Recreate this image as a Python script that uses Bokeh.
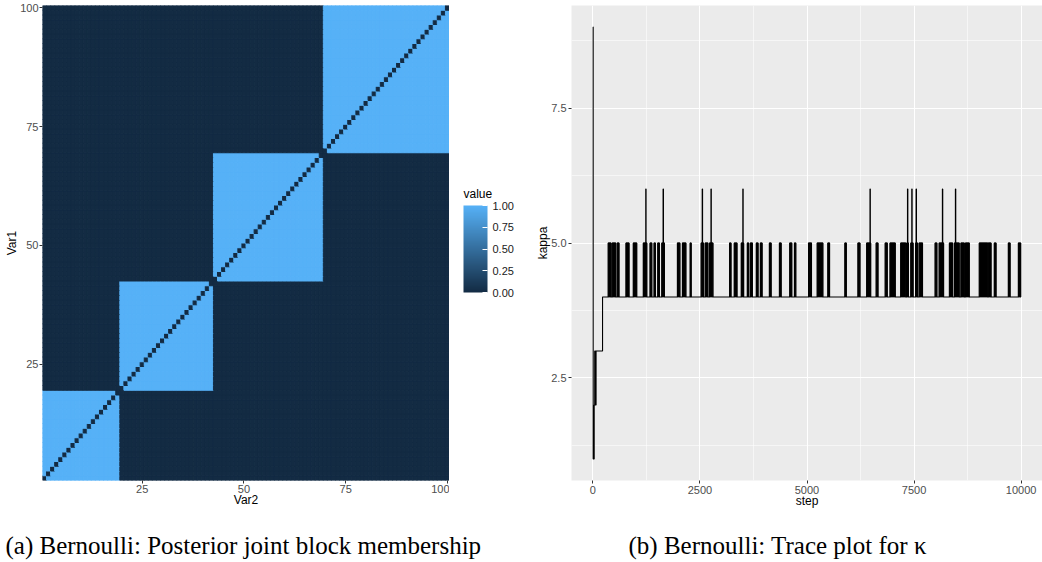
import numpy as np
from bokeh.plotting import figure
from bokeh.models import (Range1d, FixedTicker, LinearColorMapper, ColorBar, Label,
                          ColumnDataSource, PrintfTickFormatter)
from bokeh.layouts import row, column
from bokeh.transform import transform
from bokeh.embed import file_html
from bokeh.resources import INLINE

# ---------------- data: panel (a) ----------------
# block sizes of nodes 1..100
block_sizes = [19, 23, 27, 31]
n_nodes = 100

# ---------------- data: panel (b) ----------------
# early part of the chain (step, kappa)
early_step = [0, 6, 30, 42, 50, 58, 66, 74, 86, 225]
early_kappa = [9, 1, 2, 3, 2, 3, 2, 3, 3, 4]
# intervals with rapid switching between kappa=4 and kappa=5
burst_start = [358, 452, 569, 773, 944, 1178, 1335, 1429, 1515, 1609, 1974, 2091, 2272,
               2529, 2623, 2724, 3192, 3302, 3466, 3607, 3677, 3817, 3911, 4122, 4356,
               4597, 4707, 5035, 5239, 5487, 5885, 6190, 6394, 6616, 6827, 6939, 7189,
               7330, 7424, 7534, 7618, 7993, 8087, 8326, 8443, 8595, 8700, 9024, 9234,
               9375, 9703, 9937]
burst_end = [422, 532, 609, 843, 1023, 1258, 1375, 1459, 1553, 1670, 2031, 2171, 2295,
             2583, 2686, 2803, 3225, 3365, 3520, 3637, 3724, 3857, 3951, 4162, 4396,
             4644, 4738, 5105, 5370, 5527, 5918, 6237, 6487, 6658, 6874, 7061, 7306,
             7370, 7478, 7581, 7698, 8033, 8190, 8401, 8555, 8673, 8789, 9220, 9298,
             9415, 9743, 9990]
# single visits to kappa=6
six_step = [1234, 1639, 2553, 2757, 3501, 6471, 7347, 7447, 7548, 8162, 8466]
last_step = 9999

# ---------------- panel (a): heatmap ----------------
membership = np.repeat(np.arange(len(block_sizes)), block_sizes)
mat = (membership[:, None] == membership[None, :]).astype(float)
np.fill_diagonal(mat, 0.0)
ii, jj = np.meshgrid(np.arange(1, n_nodes + 1), np.arange(1, n_nodes + 1), indexing="ij")
hsrc = ColumnDataSource(dict(x=jj.ravel(), y=ii.ravel(), value=mat.ravel()))


def hex2rgb(h):
    return tuple(int(h[k:k + 2], 16) for k in (1, 3, 5))


lo, hi = hex2rgb("#132B43"), hex2rgb("#56B1F7")
palette = []
for k in range(256):
    t = k / 255
    c = tuple(round(lo[m] + (hi[m] - lo[m]) * t) for m in range(3))
    palette.append("#%02x%02x%02x" % c)
mapper = LinearColorMapper(palette=palette, low=0, high=1)

AX_FONT = "Liberation Sans"

left = figure(width=449, height=520, x_range=Range1d(0.5, 100.5), y_range=Range1d(0.5, 100.5),
              toolbar_location=None, output_backend="svg",
              min_border_left=42, min_border_right=0, min_border_top=5, min_border_bottom=40)
left.rect("x", "y", 1, 1, source=hsrc, fill_color=transform("value", mapper),
          line_color=transform("value", mapper), line_width=1.0)
left.xaxis.ticker = FixedTicker(ticks=[25, 50, 75, 100])
left.yaxis.ticker = FixedTicker(ticks=[25, 50, 75, 100])
left.xaxis.axis_label = "Var2"
left.yaxis.axis_label = "Var1"
left.grid.visible = False
left.outline_line_color = None

# colour-bar holder
cbfig = figure(width=84, height=520, toolbar_location=None, output_backend="svg",
               min_border=0, x_range=Range1d(0, 1), y_range=Range1d(0, 1))
cbfig.axis.visible = False
cbfig.grid.visible = False
cbfig.outline_line_color = None
cbar = ColorBar(color_mapper=mapper, ticker=FixedTicker(ticks=[0, 0.25, 0.5, 0.75, 1.0]),
                formatter=PrintfTickFormatter(format="%.2f"),
                width=24, height=87, location=(14, 188), padding=0, margin=0,
                major_tick_line_color="white", major_tick_in=5, major_tick_out=0,
                major_label_text_font=AX_FONT, major_label_text_font_size="11px",
                major_label_text_color="#1a1a1a", label_standoff=5, bar_line_color=None,
                border_line_color=None, background_fill_color=None)
cbfig.add_layout(cbar, "center")
cbfig.add_layout(Label(x=14, y=287, x_units="screen", y_units="screen", text="value",
                       text_font=AX_FONT, text_font_size="12px", text_baseline="middle",
                       text_color="black"))

# ---------------- panel (b): trace plot ----------------
events = list(zip(early_step, early_kappa))
for a, b in zip(burst_start, burst_end):
    events.append((a, 5))
    events.append((b, 4))
for c in six_step:
    events.append((c, 6))
    events.append((c + 8, 5))
events.sort(key=lambda e: e[0])
events.append((last_step, 4))
tx = [e[0] for e in events]
ty = [e[1] for e in events]

right = figure(width=509, height=520, x_range=Range1d(-500, 10500), y_range=Range1d(0.6, 9.4),
               toolbar_location=None, output_backend="svg",
               min_border_left=37, min_border_right=0, min_border_top=5, min_border_bottom=40)
right.background_fill_color = "#EBEBEB"
right.outline_line_color = None
right.xaxis.ticker = FixedTicker(ticks=[0, 2500, 5000, 7500, 10000],
                                 minor_ticks=[1250, 3750, 6250, 8750])
right.yaxis.ticker = FixedTicker(ticks=[2.5, 5.0, 7.5], minor_ticks=[1.25, 3.75, 6.25, 8.75])
right.yaxis.formatter = PrintfTickFormatter(format="%.1f")
right.grid.grid_line_color = "white"
right.grid.grid_line_width = 1.1
right.grid.minor_grid_line_color = "white"
right.grid.minor_grid_line_width = 0.55
right.xaxis.axis_label = "step"
right.yaxis.axis_label = "kappa"
bsrc = ColumnDataSource(dict(left=burst_start, right=burst_end,
                             bottom=[4] * len(burst_start), top=[5] * len(burst_start)))
right.quad(left="left", right="right", bottom="bottom", top="top", source=bsrc,
           fill_color="black", line_color="black", line_width=0.8)
right.step(tx, ty, mode="after", line_color="black", line_width=1.1)

for p in (left, right):
    for ax in p.axis:
        ax.axis_line_color = None
        ax.major_tick_line_color = "#333333"
        ax.major_tick_out = 3
        ax.major_tick_in = 0
        ax.minor_tick_line_color = None
        ax.major_label_text_font = AX_FONT
        ax.major_label_text_font_size = "11px"
        ax.major_label_text_color = "#4D4D4D"
        ax.major_label_standoff = 1
        ax.axis_label_text_font = AX_FONT
        ax.axis_label_text_font_size = "12px"
        ax.axis_label_text_font_style = "normal"
        ax.axis_label_text_color = "black"
    p.xaxis.axis_label_standoff = -3
    p.yaxis.axis_label_standoff = -2

# ---------------- captions ----------------
cap = figure(width=1042, height=42, x_range=Range1d(0, 1042), y_range=Range1d(0, 42),
             toolbar_location=None, output_backend="svg", min_border=0)
cap.axis.visible = False
cap.grid.visible = False
cap.outline_line_color = None
for xx, txt in [(5, "(a) Bernoulli: Posterior joint block membership"),
                (628, "(b) Bernoulli: Trace plot for κ")]:
    cap.add_layout(Label(x=xx, y=17, text=txt, text_font="Liberation Serif",
                         text_font_size="25px", text_baseline="middle", text_color="black"))

layout = column(row(left, cbfig, right), cap)
open("out.html", "w").write(file_html(layout, INLINE))
